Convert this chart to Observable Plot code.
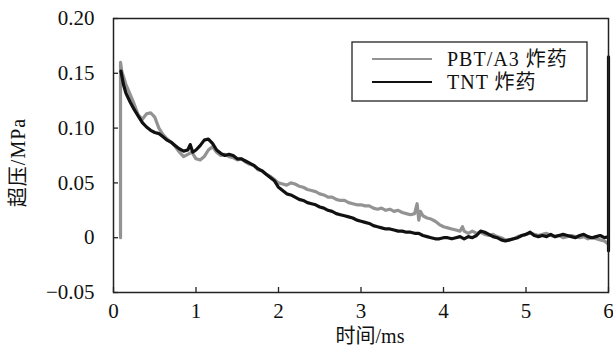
<!DOCTYPE html>
<html>
<head>
<meta charset="utf-8">
<script src="https://cdn.jsdelivr.net/npm/d3@7"></script>
<script src="https://cdn.jsdelivr.net/npm/@observablehq/plot@0.6"></script>
<style>
  html, body { margin: 0; padding: 0; background: #fff; }
  #chart { width: 613px; height: 347px; }
</style>
</head>
<body>
<div id="chart"></div>
<script>
// ---- Data ----
const seriesNames = ["PBT/A3 炸药", "TNT 炸药"];

const pbtTime = [0.085,0.085,0.10,0.15,0.20,0.25,0.30,0.35,0.40,0.45,0.50,0.55,0.60,0.65,0.70,0.75,0.80,0.85,0.90,0.95,1.00,1.05,1.10,1.15,1.20,1.25,1.30,1.35,1.40,1.45,1.50,1.55,1.60,1.65,1.70,1.75,1.80,1.85,1.90,1.95,2.00,2.05,2.10,2.15,2.20,2.25,2.30,2.35,2.40,2.45,2.50,2.55,2.60,2.65,2.70,2.75,2.80,2.85,2.90,2.95,3.00,3.05,3.10,3.15,3.20,3.25,3.30,3.35,3.40,3.45,3.50,3.55,3.60,3.65,3.68,3.70,3.72,3.75,3.80,3.85,3.90,3.95,4.00,4.05,4.10,4.15,4.20,4.23,4.25,4.30,4.35,4.40,4.45,4.50,4.55,4.60,4.65,4.70,4.75,4.80,4.85,4.90,4.95,5.00,5.05,5.10,5.15,5.20,5.25,5.30,5.35,5.40,5.45,5.50,5.55,5.60,5.65,5.70,5.75,5.80,5.85,5.90,5.95,6.00];
const pbtValue = [0.000,0.160,0.152,0.140,0.131,0.122,0.112,0.108,0.113,0.114,0.110,0.100,0.094,0.090,0.087,0.083,0.078,0.074,0.076,0.078,0.072,0.071,0.074,0.080,0.083,0.078,0.075,0.076,0.074,0.073,0.071,0.072,0.069,0.067,0.066,0.062,0.061,0.058,0.056,0.053,0.050,0.049,0.048,0.050,0.049,0.047,0.046,0.044,0.043,0.042,0.040,0.039,0.037,0.037,0.035,0.034,0.034,0.032,0.031,0.030,0.030,0.029,0.029,0.027,0.026,0.027,0.025,0.026,0.024,0.025,0.023,0.022,0.021,0.022,0.031,0.016,0.024,0.020,0.018,0.017,0.015,0.012,0.010,0.009,0.008,0.007,0.006,0.010,0.006,0.004,0.006,0.004,0.005,0.003,0.002,0.003,0.001,0.000,-0.002,-0.002,-0.001,0.001,0.002,0.003,0.004,0.003,0.002,0.003,0.004,0.002,0.001,0.002,0.000,0.001,0.002,0.001,0.000,0.001,-0.001,0.000,-0.001,-0.002,-0.003,-0.006];

const tntTime = [0.09,0.12,0.15,0.20,0.25,0.30,0.35,0.40,0.45,0.50,0.55,0.60,0.65,0.70,0.75,0.80,0.85,0.90,0.93,0.96,1.00,1.05,1.10,1.15,1.20,1.25,1.30,1.35,1.40,1.45,1.50,1.55,1.60,1.65,1.70,1.75,1.80,1.85,1.90,1.95,2.00,2.05,2.10,2.15,2.20,2.25,2.30,2.35,2.40,2.45,2.50,2.55,2.60,2.65,2.70,2.75,2.80,2.85,2.90,2.95,3.00,3.05,3.10,3.15,3.20,3.25,3.30,3.35,3.40,3.45,3.50,3.55,3.60,3.65,3.70,3.75,3.80,3.85,3.90,3.95,4.00,4.05,4.10,4.15,4.20,4.25,4.30,4.35,4.40,4.45,4.50,4.55,4.60,4.65,4.70,4.75,4.80,4.85,4.90,4.95,5.00,5.05,5.10,5.15,5.20,5.25,5.30,5.35,5.40,5.45,5.50,5.55,5.60,5.65,5.70,5.75,5.80,5.85,5.90,5.95,6.00,6.00,6.00];
const tntValue = [0.152,0.140,0.132,0.124,0.117,0.111,0.105,0.101,0.098,0.096,0.095,0.092,0.089,0.087,0.084,0.081,0.079,0.080,0.085,0.078,0.080,0.084,0.089,0.090,0.086,0.080,0.077,0.075,0.076,0.075,0.072,0.072,0.070,0.068,0.066,0.063,0.061,0.058,0.055,0.052,0.046,0.043,0.040,0.039,0.037,0.035,0.034,0.032,0.031,0.030,0.028,0.027,0.025,0.024,0.022,0.021,0.020,0.019,0.018,0.016,0.015,0.014,0.013,0.011,0.010,0.009,0.008,0.008,0.007,0.006,0.006,0.005,0.005,0.004,0.004,0.002,0.001,0.000,-0.001,-0.001,0.000,0.000,-0.001,0.000,0.001,-0.001,0.001,0.000,0.002,0.006,0.005,0.003,0.001,0.000,-0.002,-0.003,-0.002,-0.001,0.000,0.002,0.003,0.005,0.002,0.001,0.002,0.001,0.003,0.001,0.002,0.003,0.002,0.001,0.000,0.002,0.003,0.001,0.000,0.001,0.002,0.000,0.001,-0.012,0.165];

const xTicks = [0, 1, 2, 3, 4, 5, 6];
const yTicks = [-0.05, 0, 0.05, 0.10, 0.15, 0.20];
const xLabel = "时间/ms";
const yLabel = "超压/MPa";

// ---- Build tables ----
const pbt = pbtTime.map((t, i) => ({t, v: pbtValue[i]}));
const tnt = tntTime.map((t, i) => ({t, v: tntValue[i]}));

const FONT = "\"Liberation Serif\", \"DejaVu Serif\", \"Noto Sans CJK SC\", serif";
const fmtY = d => d === 0 ? "0" : (d < 0 ? "\u2212" : "") + Math.abs(d).toFixed(2);

const chart = Plot.plot({
  width: 613,
  height: 347,
  marginLeft: 113,
  marginRight: 5,
  marginTop: 18,
  marginBottom: 55,
  style: {fontSize: "21px", background: "#fff", color: "#111"},
  x: {domain: [0, 6]},
  y: {domain: [-0.05, 0.20]},
  marks: [
    Plot.line(pbt, {x: "t", y: "v", stroke: "#939393", strokeWidth: 3.2, strokeLinejoin: "round"}),
    Plot.line(tnt, {x: "t", y: "v", stroke: "#111", strokeWidth: 3.2, strokeLinejoin: "round"}),
    Plot.frame({stroke: "#222", strokeWidth: 1.5}),
    Plot.axisX({ticks: xTicks, tickSize: -5, tickPadding: 16, tickFormat: d => String(d), label: null, fontSize: 21, stroke: "#222", strokeWidth: 1.3}),
    Plot.axisY({ticks: yTicks, tickSize: -5, tickPadding: 24, tickFormat: fmtY, label: null, fontSize: 21, stroke: "#222", strokeWidth: 1.3}),
    Plot.text([xLabel], {frameAnchor: "bottom", dy: 44, dx: 9, fontSize: 20, textAnchor: "middle", lineAnchor: "middle", fill: "#111"}),
    Plot.text([yLabel], {frameAnchor: "left", dx: -95, dy: 7, rotate: -90, fontSize: 20, textAnchor: "middle", lineAnchor: "middle", fill: "#111"})
  ]
});

const svg = d3.select(chart);

// ---- Legend (boxed, inside the plot area) ----
const lg = svg.append("g").attr("text-anchor", "start").attr("font-size", 20);
lg.append("rect").attr("x", 352).attr("y", 42).attr("width", 235).attr("height", 59)
  .attr("fill", "#fff").attr("stroke", "#222").attr("stroke-width", 1.3);
const legendColors = ["#939393", "#111"];
seriesNames.forEach((name, i) => {
  const y = 59 + i * 23;
  lg.append("line").attr("x1", 372).attr("x2", 432).attr("y1", y).attr("y2", y)
    .attr("stroke", legendColors[i]).attr("stroke-width", 2);
  lg.append("text").attr("x", 447).attr("y", y + 7).attr("fill", "#111")
    .attr("letter-spacing", 1).attr("text-anchor", "start").text(name);
});

// serif font on every text element (inline style wins over inherited defaults)
svg.style("font-family", FONT);
svg.selectAll("text").style("font-family", FONT);
// letter spacing for the rotated y label to match the reference length
svg.selectAll("text").filter(function() { return this.textContent === yLabel; })
  .attr("letter-spacing", 1);

document.getElementById("chart").appendChild(chart);
</script>
</body>
</html>
